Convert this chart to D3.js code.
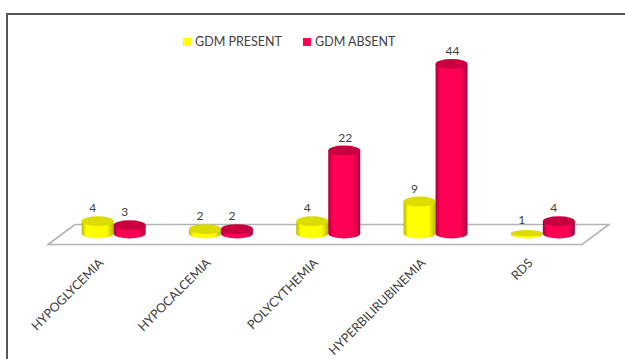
<!DOCTYPE html>
<html>
<head>
<meta charset="utf-8">
<script src="https://cdn.jsdelivr.net/npm/d3@7/dist/d3.min.js"></script>
<style>
  html, body { margin: 0; padding: 0; background: #fff; }
  svg { display: block; }
  text { font-family: Lato, "Open Sans", sans-serif; fill: #404040; }
</style>
</head>
<body>
<svg id="chart" width="625" height="359"></svg>
<script>
const categories = ["HYPOGLYCEMIA", "HYPOCALCEMIA", "POLYCYTHEMIA", "HYPERBILIRUBINEMIA", "RDS"];
const seriesNames = ["GDM PRESENT", "GDM ABSENT"];
const gdmPresent = [4, 2, 4, 9, 1];
const gdmAbsent = [3, 2, 22, 44, 4];
const seriesValues = [gdmPresent, gdmAbsent];
const seriesColors = ["#ffff00", "#ff0055"];
const edgeColors = ["#b8b800", "#a80040"];
const capColors = ["#dcdc00", "#c8003f"];

const svg = d3.select("#chart");
const w = 625, h = 359;

const x = d3.scaleBand().domain(categories).range([60, 596.5]).paddingInner(0).paddingOuter(0);
const inner = d3.scaleBand().domain(d3.range(seriesNames.length)).range([x.bandwidth() / 2 - 32, x.bandwidth() / 2 + 32]);
const y = d3.scaleLinear().domain([0, 44]).range([237, 64]);

// Chart frame: only the top and left edges are ruled
svg.append("path")
  .attr("d", `M7,${h}V14H${w}`)
  .attr("fill", "none").attr("stroke", "#555").attr("stroke-width", 2);

// Horizontal shading that gives each column its round look
const defs = svg.append("defs");
seriesColors.forEach((c, i) => {
  const g = defs.append("linearGradient").attr("id", `body${i}`);
  g.append("stop").attr("offset", "0%").attr("stop-color", edgeColors[i]);
  g.append("stop").attr("offset", "14%").attr("stop-color", c);
  g.append("stop").attr("offset", "78%").attr("stop-color", c);
  g.append("stop").attr("offset", "100%").attr("stop-color", edgeColors[i]);
});

// Floor of the plot, drawn as a sheared parallelogram
const floorBack = 224.5, floorFront = 244.5, floorLeft = 48, floorRight = 582, floorDepth = 27;
svg.append("path")
  .attr("d", `M${floorLeft},${floorFront}L${floorLeft + floorDepth},${floorBack}H${floorRight + floorDepth}L${floorRight},${floorFront}Z`)
  .attr("fill", "#fff").attr("stroke", "#b4b4b4").attr("stroke-width", 1.6);

// Columns
const rx = 16, ry = 5, baseOffset = 3.5;
const groups = svg.selectAll("g.group").data(categories).join("g")
  .attr("class", "group")
  .attr("transform", d => `translate(${x(d)},0)`);

groups.each(function (cat, ci) {
  const g = d3.select(this);
  seriesValues.forEach((vals, si) => {
    const v = vals[ci];
    const cx = inner(si) + inner.bandwidth() / 2;
    const top = y(v), base = y(0) - baseOffset;
    const capRy = v === 1 ? 3 : ry;
    g.append("path")
      .attr("d", `M${cx - rx},${top}V${base}A${rx},${ry} 0 0 0 ${cx + rx},${base}V${top}Z`)
      .attr("fill", `url(#body${si})`);
    g.append("ellipse")
      .attr("cx", cx).attr("cy", top)
      .attr("rx", rx).attr("ry", capRy)
      .attr("fill", capColors[si]);
    // Short columns carry their label a little to the left, tall ones centred
    const labelShift = (si === 1 && v >= 10) ? 1 : -5;
    g.append("text")
      .attr("x", cx + labelShift)
      .attr("y", top - 9)
      .attr("text-anchor", "middle")
      .attr("font-size", 12)
      .text(v);
  });
});

// Category axis with slanted labels
const axis = d3.axisBottom(x).tickSize(0);
const axisG = svg.append("g").attr("transform", "translate(-15,258)").call(axis);
axisG.select(".domain").remove();
axisG.selectAll("text")
  .attr("font-size", 12.5)
  .attr("text-anchor", "end")
  .attr("dy", 0)
  .attr("y", 8)
  .attr("x", 0)
  .attr("transform", "rotate(-45)")
  .style("fill", "#404040");

// Legend
const legendX = [183, 303];
seriesNames.forEach((name, i) => {
  svg.append("rect")
    .attr("x", legendX[i]).attr("y", 38)
    .attr("width", 8).attr("height", 8)
    .attr("fill", seriesColors[i]);
  svg.append("text")
    .attr("x", legendX[i] + 12).attr("y", 46)
    .attr("font-size", 12.5)
    .text(name);
});
</script>
</body>
</html>
